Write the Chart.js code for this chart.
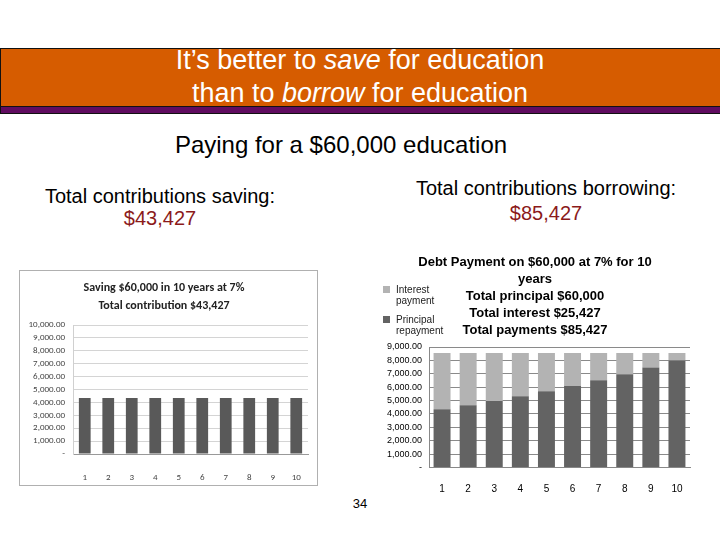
<!DOCTYPE html>
<html>
<head>
<meta charset="utf-8">
<script src="https://cdn.jsdelivr.net/npm/chart.js@4.4.1/dist/chart.umd.min.js"></script>
<style>
  body { margin: 0; width: 720px; height: 540px; background: #fff; position: relative; overflow: hidden;
         font-family: "Liberation Sans", Arial, sans-serif; }
  .abs { position: absolute; }
  .txt { position: absolute; white-space: nowrap; text-align: center; }
  #legend { position: absolute; left: 383px; top: 284px; font-size: 10px; color: #222; line-height: 11px; }
  #legend .item { position: relative; height: 30px; padding-left: 13px; }
  #legend .sw { position: absolute; left: 0; top: 2px; width: 7px; height: 7px; }
</style>
</head>
<body>
<!-- header band -->
<div class="abs" style="left:1px;top:48px;width:719px;height:1px;background:#111"></div>
<div class="abs" style="left:1px;top:49px;width:719px;height:57px;background:#d65c00"></div>
<div class="abs" style="left:1px;top:106px;width:719px;height:1px;background:#111"></div>
<div class="abs" style="left:1px;top:107px;width:719px;height:6px;background:#600c60"></div>
<div class="abs" style="left:1px;top:113px;width:719px;height:1px;background:#111"></div>
<div class="abs" style="left:0;top:48px;width:1px;height:66px;background:#111"></div>
<div class="txt" style="left:0;width:720px;top:44px;font-size:27px;line-height:33px;color:#fff">
  It’s better to <i>save</i> for education<br>than to <i>borrow</i> for education
</div>

<div class="txt" style="left:0;width:682px;top:131px;font-size:24px;line-height:28px;color:#000">Paying for a $60,000 education</div>
<div class="txt" style="left:0;width:320px;top:185px;font-size:20px;line-height:23px;color:#000">Total contributions saving:</div>
<div class="txt" style="left:0;width:320px;top:207px;font-size:20px;line-height:23px;color:#8b1a1a">$43,427</div>
<div class="txt" style="left:392px;width:308px;top:177px;font-size:20px;line-height:23px;color:#000">Total contributions borrowing:</div>
<div class="txt" style="left:392px;width:308px;top:202px;font-size:20px;line-height:23px;color:#8b1a1a">$85,427</div>

<div class="abs" style="left:19px;top:270px;width:297px;height:214px;border:1px solid #b0b0b0">
  <canvas id="saveChart" width="297" height="214"></canvas>
</div>
<div class="abs" style="left:380px;top:250px;width:330px;height:245px">
  <canvas id="debtChart" width="330" height="245"></canvas>
</div>
<div id="legend"></div>

<div class="txt" style="left:330px;width:60px;top:496px;font-size:13px;line-height:15px;color:#000">34</div>

<script>
const years = ['1', '2', '3', '4', '5', '6', '7', '8', '9', '10'];
const savingDeposit = [4343, 4343, 4343, 4343, 4343, 4343, 4343, 4343, 4343, 4343];
const principalRepayment = [4343, 4647, 4972, 5320, 5692, 6091, 6517, 6973, 7461, 7983];
const interestPayment = [4200, 3896, 3571, 3223, 2851, 2452, 2026, 1570, 1082, 560];
const savingTitle = ['Saving $60,000 in 10 years at 7%', 'Total contribution $43,427'];
const debtTitle = ['Debt Payment on $60,000 at 7% for 10', 'years', 'Total principal $60,000',
                   'Total interest $25,427', 'Total payments $85,427'];

const smallFont = "Carlito, 'Liberation Sans Narrow', 'Liberation Sans', Arial";

function money(v) {
    if (v === 0) return '-';
    return v.toLocaleString('en-US', { minimumFractionDigits: 2, maximumFractionDigits: 2 });
}

new Chart(document.getElementById('saveChart'), {
    type: 'bar',
    data: {
        labels: years,
        datasets: [{ label: 'Saving', data: savingDeposit, backgroundColor: '#595959',
                     categoryPercentage: 1, barPercentage: 0.5 }]
    },
    options: {
        responsive: false, animation: false,
        layout: { padding: { left: 0, right: 9, top: 0, bottom: 0 } },
        plugins: {
            legend: { display: false },
            tooltip: { enabled: false },
            title: {
                display: true, text: savingTitle, color: '#222',
                font: { family: smallFont, size: 12, weight: 'bold', lineHeight: 1.5 },
                padding: { top: 8, bottom: 10 }
            }
        },
        scales: {
            x: {
                grid: { display: false },
                border: { color: '#999' },
                ticks: { color: '#444', font: { family: smallFont, size: 9 }, padding: 10 },
                afterFit: function (s) { s.height = 31; }
            },
            y: {
                min: 0, max: 10000,
                ticks: { stepSize: 1000, autoSkip: false, color: '#444', font: { family: smallFont, size: 9 },
                         padding: 8, callback: money },
                grid: { color: '#d4d4d4', drawTicks: false },
                border: { color: '#d0d0d0' },
                afterFit: function (s) { s.width = 53; }
            }
        }
    }
});

const debtChart = new Chart(document.getElementById('debtChart'), {
    type: 'bar',
    data: {
        labels: years,
        datasets: [
            { label: 'Principal repayment', data: principalRepayment, backgroundColor: '#636363',
              categoryPercentage: 1, barPercentage: 0.65 },
            { label: 'Interest payment', data: interestPayment, backgroundColor: '#b3b3b3',
              categoryPercentage: 1, barPercentage: 0.65 }
        ]
    },
    options: {
        responsive: false, animation: false,
        layout: { padding: { left: 0, right: 20, top: 0, bottom: 0 } },
        plugins: {
            legend: { display: false },
            tooltip: { enabled: false },
            title: {
                display: true, text: debtTitle, color: '#000',
                font: { family: "'Liberation Sans', Arial", size: 13, weight: 'bold', lineHeight: 1.3 },
                padding: { top: 4, bottom: 8.5 }
            }
        },
        scales: {
            x: {
                stacked: true,
                grid: { display: false },
                border: { color: '#888' },
                ticks: { color: '#000', font: { size: 10 }, padding: 8 },
                afterFit: function (s) { s.height = 27.5; }
            },
            y: {
                stacked: true, min: 0, max: 9000,
                ticks: { stepSize: 1000, autoSkip: false, color: '#000', font: { size: 9 }, padding: 7, callback: money },
                grid: { color: '#8a8a8a', drawTicks: false },
                border: { color: '#888' },
                afterFit: function (s) { s.width = 49; }
            }
        }
    }
});

// legend to the left of the title, interest first like the original
const legend = document.getElementById('legend');
debtChart.data.datasets.slice().reverse().forEach(function (ds) {
    const words = ds.label.split(' ');
    const item = document.createElement('div');
    item.className = 'item';
    item.innerHTML = '<span class="sw" style="background:' + ds.backgroundColor + '"></span>' +
        words[0] + '<br>' + words.slice(1).join(' ');
    legend.appendChild(item);
});
</script>
</body>
</html>
